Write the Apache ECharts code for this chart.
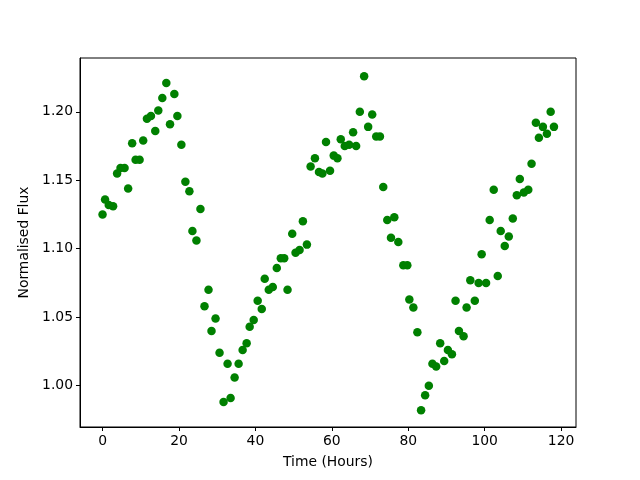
<!DOCTYPE html>
<html>
<head>
<meta charset="utf-8">
<script src="https://cdn.jsdelivr.net/npm/echarts@6/dist/echarts.min.js"></script>
<style>
  html, body { margin: 0; padding: 0; background: #fff; }
  #chart { width: 640px; height: 480px; }
</style>
</head>
<body>
<div id="chart"></div>
<script>
// time of each sample (hours)
const hours = [
  0.0, 0.66, 1.63, 2.76, 3.81, 4.70, 5.76, 6.70, 7.75, 8.65,
  9.70, 10.64, 11.62, 12.67, 13.80, 14.59, 15.64, 16.69, 17.66, 18.79,
  19.58, 20.63, 21.68, 22.73, 23.52, 24.57, 25.62, 26.68, 27.73, 28.52,
  29.57, 30.62, 31.67, 32.72, 33.51, 34.56, 35.61, 36.66, 37.71, 38.50,
  39.55, 40.60, 41.66, 42.44, 43.50, 44.55, 45.60, 46.65, 47.54, 48.41,
  49.64, 50.51, 51.56, 52.43, 53.48, 54.45, 55.58, 56.64, 57.53, 58.48,
  59.53, 60.50, 61.47, 62.34, 63.39, 64.52, 65.57, 66.36, 67.33, 68.46,
  69.51, 70.57, 71.62, 72.59, 73.46, 74.51, 75.48, 76.35, 77.40, 78.71,
  79.76, 80.29, 81.34, 82.39, 83.36, 84.42, 85.39, 86.33, 87.31, 88.36,
  89.41, 90.38, 91.43, 92.38, 93.27, 94.48, 95.27, 96.24, 97.42, 98.42,
  99.21, 100.37, 101.31, 102.37, 103.42, 104.20, 105.26, 106.31, 107.36, 108.41,
  109.20, 110.25, 111.41, 112.27, 113.40, 114.19, 115.24, 116.29, 117.27, 118.13
];

// normalised flux for each sample
const flux = [
  1.125, 1.136, 1.132, 1.131, 1.155, 1.159, 1.159, 1.144, 1.177, 1.165,
  1.165, 1.179, 1.195, 1.197, 1.186, 1.201, 1.210, 1.221, 1.191, 1.213,
  1.197, 1.176, 1.149, 1.142, 1.113, 1.106, 1.129, 1.058, 1.070, 1.040,
  1.049, 1.024, 0.988, 1.016, 0.991, 1.006, 1.016, 1.026, 1.031, 1.043,
  1.048, 1.062, 1.056, 1.078, 1.070, 1.072, 1.086, 1.093, 1.093, 1.070,
  1.111, 1.097, 1.099, 1.120, 1.103, 1.160, 1.166, 1.156, 1.155, 1.178,
  1.157, 1.168, 1.166, 1.180, 1.175, 1.176, 1.185, 1.175, 1.200, 1.226,
  1.189, 1.198, 1.182, 1.182, 1.145, 1.121, 1.108, 1.123, 1.105, 1.088,
  1.088, 1.063, 1.057, 1.039, 0.982, 0.993, 1.000, 1.016, 1.014, 1.031,
  1.018, 1.026, 1.023, 1.062, 1.040, 1.036, 1.057, 1.077, 1.062, 1.075,
  1.096, 1.075, 1.121, 1.143, 1.080, 1.113, 1.102, 1.109, 1.122, 1.139,
  1.151, 1.141, 1.143, 1.162, 1.192, 1.181, 1.189, 1.184, 1.200, 1.189
];

const xTicks = [0, 20, 40, 60, 80, 100, 120];
const yTicks = [1.00, 1.05, 1.10, 1.15, 1.20];

const points = hours.map((h, i) => [h, flux[i]]);

const chart = echarts.init(document.getElementById('chart'));

const labelFont = {
  fontFamily: 'DejaVu Sans',
  fontSize: 13.9,
  color: '#000'
};

const option = {
  backgroundColor: '#fff',
  animation: false,
  grid: {
    left: 80,
    right: 64,
    top: 58,
    bottom: 53,
    show: true,
    borderColor: '#000',
    borderWidth: 1,
    backgroundColor: 'transparent'
  },
  xAxis: {
    type: 'value',
    min: -5.9,
    max: 123.9,
    name: 'Time (Hours)',
    nameLocation: 'middle',
    nameGap: 28,
    nameTextStyle: labelFont,
    splitLine: { show: false },
    axisLine: { show: true, onZero: false, lineStyle: { color: '#000', width: 1 } },
    axisTick: {
      show: true,
      length: 4,
      customValues: xTicks,
      lineStyle: { color: '#000', width: 1 }
    },
    axisLabel: {
      ...labelFont,
      margin: 7,
      customValues: xTicks,
      formatter: v => String(v)
    }
  },
  yAxis: {
    type: 'value',
    min: 0.9698,
    max: 1.2393,
    name: 'Normalised Flux',
    nameLocation: 'middle',
    nameGap: 45,
    nameTextStyle: labelFont,
    splitLine: { show: false },
    axisLine: { show: true, onZero: false, lineStyle: { color: '#000', width: 1 } },
    axisTick: {
      show: true,
      length: 4,
      customValues: yTicks,
      lineStyle: { color: '#000', width: 1 }
    },
    axisLabel: {
      ...labelFont,
      margin: 7,
      customValues: yTicks,
      formatter: v => v.toFixed(2)
    }
  },
  series: [
    {
      type: 'scatter',
      data: points,
      symbol: 'circle',
      symbolSize: 8.5,
      itemStyle: { color: '#008000', opacity: 1 }
    }
  ]
};

chart.setOption(option);
</script>
</body>
</html>
